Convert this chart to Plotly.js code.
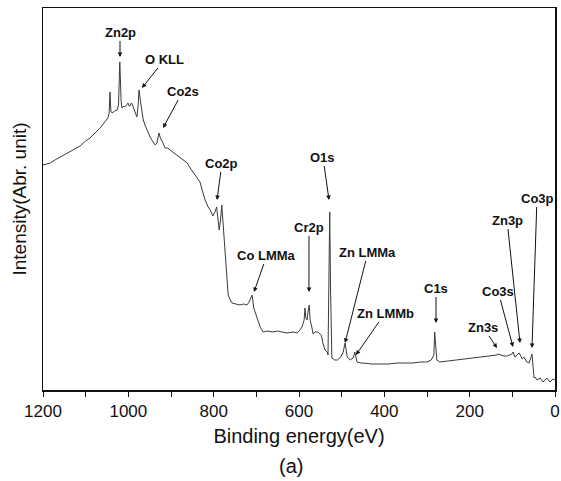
<!DOCTYPE html>
<html>
<head>
<meta charset="utf-8">
<script src="https://cdn.plot.ly/plotly-3.0.1.min.js"></script>
<style>html,body{margin:0;padding:0;background:#fff;}#chart{width:561px;height:481px;}</style>
</head>
<body>
<div id="chart"></div>
<script>
// Binding energy (eV) and intensity (arbitrary units)
const energy = [1200,1190,1183,1172,1160,1150,1137,1125,1113,1100,1090,1078,1066,1057,1048,1045,1043,1041,1038,1032,1026,1023,1020,1017,1015,1011,1008,1004,1001,998,996,993,991,987,984,980,977,975,972,968,965,961,955,949,942,937,933,928,925,921,914,908,902,890,879,870,862,855,848,839,832,825,820,813,808,802,797,793,789,787,784,781,778,773,769,766,761,757,748,738,730,722,717,713,710,706,703,699,696,691,684,675,661,650,640,628,614,604,598,593,588,586,584,581,579,576,574,572,570,567,562,556,550,548,546,544,539,534,532,530,528,526,523,516,510,504,500,497,492,489,487,480,473,469,466,464,455,450,430,410,390,370,350,333,315,300,290,284,282,279,277,270,250,230,216,195,176,155,140,136,134,129,120,112,105,101,98,94,89,84,80,77,73,66,61,58,56,54,52,49,47,42,35,28,19,12,5,0];
const intensity = [225,226,227,230,233,235,238,241,244,249,252,257,262,267,272,277,298,279,277,279,280,285,328,290,282,284,283,285,287,284,284,287,286,281,278,273,285,300,290,275,270,265,258,253,248,245,247,257,252,249,242,242,240,236,233,230,227,222,218,213,208,197,190,183,180,174,178,183,166,160,170,185,167,137,110,95,90,87,86,85,86,85,88,92,95,82,78,72,70,63,58,59,58,59,58,57,58,57,60,63,70,82,72,70,78,85,70,67,63,56,58,58,56,55,52,47,40,38,35,100,178,100,32,30,30,32,35,37,47,36,33,30,32,38,30,28,27,27,26,26,26,27,27,27,28,28,30,35,58,35,30,28,29,30,31,32,33,34,35,35,36,35,34,34,35,36,38,33,35,37,34,31,33,28,27,30,33,36,25,12,13,10,12,8,12,8,11,10];

// Peak labels and the spectrum point each arrow points at
const peakLabels = ["Zn2p","O KLL","Co2s","Co2p","Co LMMa","Cr2p","O1s","Zn LMMa","Zn LMMb","C1s","Zn3s","Co3s","Zn3p","Co3p"];
const peakEnergy = [1019.5,968,918.7,792.2,705.5,576.6,529.7,492.2,466.4,278.9,135.9,98.4,82.0,53.9];
const peakIntensity = [333,302,262,190,98,98,190,47,35,67,42,43,47,42];

const xTickVals = [1200,1000,800,600,400,200,0];
const xTickText = ["1200","1000","800","600","400","200","0"];

// label offsets (pixels) from arrow tip to label centre
const offs = [[0,-25],[23,-29],[20,-37],[5,-37],[13,-37],[0,-65],[-6,-43],[23,-91],[29,-42],[0,-35],[-14,-21],[-15,-56],[-13,-123],[5,-150]];

const annotations = peakLabels.map((t,i)=>({
  x: peakEnergy[i], y: peakIntensity[i], xref:'x', yref:'y',
  text: '<b>'+t+'</b>', showarrow:true, arrowhead:2, arrowsize:0.9, arrowwidth:1, arrowcolor:'#111',
  ax: offs[i][0], ay: offs[i][1], axref:'pixel', ayref:'pixel',
  font:{family:'Liberation Sans, Arial, sans-serif', size:13, color:'#111'}
}));
annotations.push({
  xref:'paper', yref:'paper', x:0.485, y:-0.198, yanchor:'middle', xanchor:'center',
  text:'(a)', showarrow:false,
  font:{family:'Liberation Sans, Arial, sans-serif', size:20, color:'#111'}
});

const trace = {
  x: energy, y: intensity, type:'scatter', mode:'lines',
  line:{color:'#3a3a3a', width:1}, hoverinfo:'skip', showlegend:false
};

const layout = {
  width:561, height:481,
  margin:{l:43, r:6, t:8, b:91},
  paper_bgcolor:'#fff', plot_bgcolor:'#fff',
  font:{family:'Liberation Sans, Arial, sans-serif', color:'#111'},
  xaxis:{
    range:[1200,0], showgrid:false, zeroline:false,
    showline:true, mirror:true, linecolor:'#111', linewidth:1.5,
    ticks:'outside', ticklen:5, tickwidth:1, tickcolor:'#111',
    tickvals:xTickVals, ticktext:xTickText,
    minor:{dtick:100, tick0:0, ticks:'outside', ticklen:5, tickwidth:1, tickcolor:'#111'},
    tickfont:{size:17, color:'#111'},
    title:{text:'Binding energy(eV)', font:{size:20, color:'#111'}, standoff:9}
  },
  yaxis:{
    range:[0,382], showgrid:false, zeroline:false,
    showline:true, mirror:true, linecolor:'#111', linewidth:1.5,
    ticks:'', showticklabels:false,
    title:{text:'Intensity(Abr. unit)', font:{size:19, color:'#111'}, standoff:10}
  },
  annotations: annotations
};

Plotly.newPlot('chart',[trace],layout,{staticPlot:true, displayModeBar:false});
</script>
</body>
</html>
